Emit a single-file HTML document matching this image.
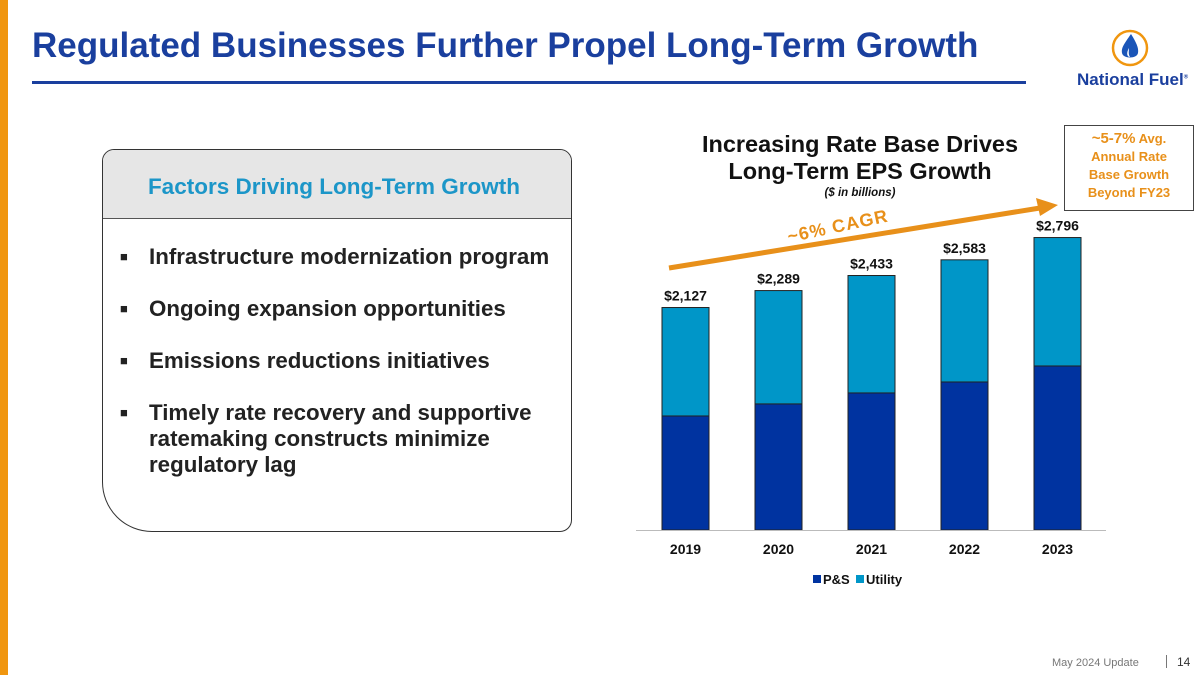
<!DOCTYPE html>
<html><head><meta charset="utf-8"><style>
body{margin:0;width:1200px;height:675px;position:relative;background:#fff;font-family:"Liberation Sans",Arial,sans-serif;overflow:hidden}
.abs{position:absolute}
</style></head><body>
<div class="abs" style="left:0;top:0;width:8px;height:675px;background:#f0960f"></div>
<div class="abs" style="left:32px;top:26px;font-size:35px;font-weight:bold;color:#1a3f9e;white-space:nowrap">Regulated Businesses Further Propel Long-Term Growth</div>
<div class="abs" style="left:32px;top:81px;width:994px;height:3px;background:#1a3f9e"></div>
<svg class="abs" style="left:1110px;top:28px" width="40" height="40"><circle cx="20" cy="20" r="17" fill="none" stroke="#f0960f" stroke-width="2.5"/><path d="M21 6 C14 16 11 20 12 25 C13 31 27 31 28 25 C29 20 26 14 21 6Z" fill="#1a55b8"/><path d="M19 20 C16 25 17 29 20 29 C18 26 19 23 19 20Z" fill="#fff"/></svg>
<div class="abs" style="left:1077px;top:70px;font-size:17px;font-weight:bold;color:#1a3f9e">National Fuel<sup style="font-size:6px">®</sup></div>

<div class="abs" style="left:102px;top:149px;width:470px;height:383px;border:1.5px solid #333;border-radius:12px 12px 12px 50px;overflow:hidden;box-sizing:border-box">
  <div style="height:68px;background:#e6e6e6;border-bottom:1.5px solid #555;color:#1c96c8;font-size:22.5px;font-weight:bold;text-align:center;line-height:74px;padding-right:6px;white-space:nowrap">Factors Driving Long-Term Growth</div>
</div>
<div class="abs" style="left:120px;top:244px;font-size:22.3px;font-weight:bold;color:#222;line-height:26px">
  <div style="position:absolute;top:0;white-space:nowrap"><span style="font-size:13px;position:absolute;left:0;top:0">■</span><span style="margin-left:29px">Infrastructure modernization program</span></div>
  <div style="position:absolute;top:52px;white-space:nowrap"><span style="font-size:13px;position:absolute;left:0;top:0">■</span><span style="margin-left:29px">Ongoing expansion opportunities</span></div>
  <div style="position:absolute;top:104px;white-space:nowrap"><span style="font-size:13px;position:absolute;left:0;top:0">■</span><span style="margin-left:29px">Emissions reductions initiatives</span></div>
  <div style="position:absolute;top:156px;white-space:nowrap"><span style="font-size:13px;position:absolute;left:0;top:0">■</span><div style="margin-left:29px">Timely rate recovery and supportive<br>ratemaking constructs minimize<br>regulatory lag</div></div>
</div>

<div class="abs" style="left:660px;top:131px;width:400px;text-align:center;font-size:23.5px;font-weight:bold;color:#111;line-height:27px">Increasing Rate Base Drives<br>Long-Term EPS Growth</div>
<div class="abs" style="left:680px;top:187px;width:360px;text-align:center;font-size:11.5px;font-weight:bold;font-style:italic;color:#111">($ in billions)</div>
<div class="abs" style="left:1064px;top:125px;width:130px;height:86px;border:1.5px solid #444;box-sizing:border-box;color:#e8901a;font-weight:bold;text-align:center;font-size:13px;line-height:18px;padding-top:4px"><span style="font-size:15px">~5-7%</span> Avg.<br>Annual Rate<br>Base Growth<br>Beyond FY23</div>

<svg class="abs" id="chart" style="left:0;top:0" width="1200" height="675"></svg>
<div class="abs" style="left:1052px;top:657px;font-size:11px;color:#777">May 2024 Update</div>
<div class="abs" style="left:1166px;top:655px;width:1px;height:13px;background:#777"></div>
<div class="abs" style="left:1177px;top:655px;font-size:12px;color:#333">14</div>

<script>
const categories=["2019","2020","2021","2022","2023"];
const psValues=[1090,1205,1310,1415,1568];
const totalValues=[2127,2289,2433,2583,2796];
const totalLabels=["$2,127","$2,289","$2,433","$2,583","$2,796"];
const svg=document.getElementById('chart');
const NS="http://www.w3.org/2000/svg";
const baseY=530,scale=0.1046,x0=662,step=93,bw=47;
const xPos=i=>x0+i*step;
const yPos=v=>baseY-v*scale;
function mk(tag,attrs){const e=document.createElementNS(NS,tag);for(const k in attrs)e.setAttribute(k,attrs[k]);svg.appendChild(e);return e;}
categories.forEach((c,i)=>{
  const x=xPos(i);
  const u=mk('rect',{x:x,y:yPos(totalValues[i]),width:bw,height:(totalValues[i]-psValues[i])*scale,fill:'#0096c8',stroke:'#222','stroke-width':1});
  
  
  const p=mk('rect',{x:x,y:yPos(psValues[i]),width:bw,height:psValues[i]*scale,fill:'#0033a0',stroke:'#222','stroke-width':1});
  
  
  const t=mk('text',{x:x+bw/2,y:yPos(totalValues[i])-7,'text-anchor':'middle','font-size':14,'font-weight':'bold',fill:'#111','font-family':'Liberation Sans, sans-serif'});
  t.textContent=totalLabels[i];
  
  
  const xl=mk('text',{x:x+bw/2,y:554,'text-anchor':'middle','font-size':14,'font-weight':'bold',fill:'#111','font-family':'Liberation Sans, sans-serif'});
  xl.textContent=c;
  
  
});
const ax=mk('line',{x1:636,x2:1106,y1:baseY+0.5,y2:baseY+0.5,stroke:'#bbb','stroke-width':1});


const ar=mk('line',{x1:669,y1:268,x2:1040,y2:208,stroke:'#e8901a','stroke-width':5});


const ah=mk('polygon',{points:'1058,205 1036,198 1040,216',fill:'#e8901a'});


const cg=mk('text',{x:839,y:232,'text-anchor':'middle','font-size':18,'font-weight':'bold',fill:'#e8901a','letter-spacing':'1','font-family':'Liberation Sans, sans-serif',transform:'rotate(-12 839 232)'});
cg.textContent='~6% CAGR';


const l1=mk('rect',{x:813,y:575,width:8,height:8,fill:'#0033a0'});


const lt1=mk('text',{x:823,y:584,'font-size':13,'font-weight':'bold',fill:'#111','font-family':'Liberation Sans, sans-serif'});
lt1.textContent='P&S';


const l2=mk('rect',{x:856,y:575,width:8,height:8,fill:'#0096c8'});


const lt2=mk('text',{x:866,y:584,'font-size':13,'font-weight':'bold',fill:'#111','font-family':'Liberation Sans, sans-serif'});
lt2.textContent='Utility';


</script>
</body></html>
